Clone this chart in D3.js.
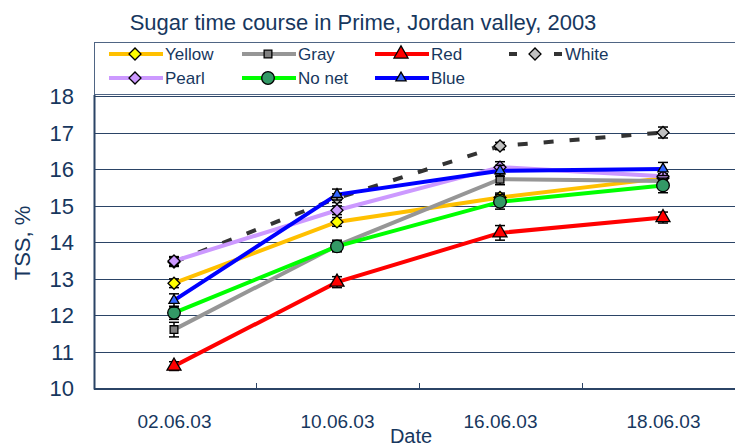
<!DOCTYPE html>
<html>
<head>
<meta charset="utf-8">
<script src="https://cdn.jsdelivr.net/npm/d3@7"></script>
<style>
  body { margin: 0; background: #fff; }
  svg { display: block; font-family: "Liberation Sans", Arial, sans-serif; }
</style>
</head>
<body>
<svg id="chart" width="735" height="446"></svg>
<script>
// data
const categories = ['02.06.03', '10.06.03', '16.06.03', '18.06.03'];
const yTicks = [10, 11, 12, 13, 14, 15, 16, 17, 18];

const yellow = [12.87, 14.55, 15.22, 15.75];
const gray = [11.6, 13.9, 15.72, 15.67];
const red = [10.6, 12.9, 14.25, 14.67];
const white = [13.45, 15.2, 16.63, 17.0];
const pearl = [13.48, 14.87, 16.05, 15.8];
const noNet = [12.06, 13.88, 15.1, 15.55];
const blue = [12.4, 15.3, 15.95, 16.0];

const yellowErr = [0.12, 0.12, 0.12, 0.12];
const grayErr = [0.2, 0.15, 0.15, 0.15];
const redErr = [0.12, 0.15, 0.2, 0.15];
const whiteErr = [0.12, 0.12, 0.1, 0.15];
const pearlErr = [0.12, 0.12, 0.15, 0.15];
const noNetErr = [0.18, 0.15, 0.2, 0.2];
const blueErr = [0.18, 0.15, 0.15, 0.18];

const series = [
  {name: 'Yellow', values: yellow, err: yellowErr, line: '#FFC000', fill: '#FFFF00', shape: 'diamond'},
  {name: 'Gray', values: gray, err: grayErr, line: '#969696', fill: '#808080', shape: 'square'},
  {name: 'Red', values: red, err: redErr, line: '#FF0000', fill: '#FF0000', shape: 'bigTriangle'},
  {name: 'White', values: white, err: whiteErr, line: '#333333', fill: '#C0C0C0', shape: 'diamond', dashed: true},
  {name: 'Pearl', values: pearl, err: pearlErr, line: '#CC99FF', fill: '#CC99FF', shape: 'diamond'},
  {name: 'No net', values: noNet, err: noNetErr, line: '#00FF00', fill: '#339966', shape: 'circle'},
  {name: 'Blue', values: blue, err: blueErr, line: '#0000FF', fill: '#3366FF', shape: 'smallTriangle'}
];

const textColor = '#17375E';
const gridColor = '#2B4466';

const svg = d3.select('#chart');

const x = d3.scalePoint()
  .domain(categories)
  .range([92.5, 744.5])
  .padding(0.5);

const y = d3.scaleLinear()
  .domain([10, 18])
  .range([388, 96]);

function markerPath(shape) {
  if (shape === 'diamond') return d3.symbol(d3.symbolSquare, 72)();
  if (shape === 'square') return d3.symbol(d3.symbolSquare, 60)();
  if (shape === 'bigTriangle') return d3.symbol(d3.symbolTriangle, 85)();
  if (shape === 'smallTriangle') return d3.symbol(d3.symbolTriangle, 45)();
  return d3.symbol(d3.symbolCircle, 125)();
}

function markerTransform(shape, px, py) {
  const rot = shape === 'diamond' ? ' rotate(45)' : '';
  return `translate(${px},${py})${rot}`;
}

// title
svg.append('text')
  .attr('x', 363)
  .attr('y', 30)
  .attr('text-anchor', 'middle')
  .attr('font-size', 22)
  .attr('fill', textColor)
  .text('Sugar time course in Prime, Jordan valley, 2003');

// gridlines
svg.append('g')
  .selectAll('line')
  .data(yTicks)
  .join('line')
  .attr('x1', 94)
  .attr('x2', 735)
  .attr('y1', d => Math.round(y(d)) + 0.5)
  .attr('y2', d => Math.round(y(d)) + 0.5)
  .attr('stroke', gridColor)
  .attr('stroke-width', 1);

// y axis labels
const yAxis = svg.append('g')
  .attr('transform', 'translate(74,0)')
  .call(d3.axisLeft(y).tickValues(yTicks).tickSize(0).tickPadding(0));
yAxis.select('.domain').remove();
yAxis.selectAll('text')
  .attr('font-size', 22)
  .attr('font-family', '"Liberation Sans", Arial, sans-serif')
  .attr('fill', textColor)
  .attr('dy', '0.36em');

// x axis
const xAxis = svg.append('g')
  .attr('transform', 'translate(0,389)')
  .call(d3.axisBottom(x).tickSize(0).tickPadding(26));
xAxis.select('.domain').remove();
xAxis.selectAll('text')
  .attr('font-size', 19)
  .attr('font-family', '"Liberation Sans", Arial, sans-serif')
  .attr('fill', textColor);

// category separator ticks
const step = x.step();
svg.append('g')
  .selectAll('line')
  .data(categories.slice(1))
  .join('line')
  .attr('x1', d => Math.round(x(d) - step / 2) + 0.5)
  .attr('x2', d => Math.round(x(d) - step / 2) + 0.5)
  .attr('y1', 383)
  .attr('y2', 389)
  .attr('stroke', gridColor)
  .attr('stroke-width', 1);

// plot frame (left and bottom)
svg.append('line')
  .attr('x1', 94.5).attr('x2', 94.5)
  .attr('y1', 95).attr('y2', 389.5)
  .attr('stroke', gridColor).attr('stroke-width', 2);
svg.append('line')
  .attr('x1', 94).attr('x2', 735)
  .attr('y1', 389).attr('y2', 389)
  .attr('stroke', gridColor).attr('stroke-width', 2);

// axis titles
svg.append('text')
  .attr('transform', 'translate(30,243) rotate(-90)')
  .attr('text-anchor', 'middle')
  .attr('font-size', 22)
  .attr('fill', textColor)
  .text('TSS, %');

svg.append('text')
  .attr('x', 411)
  .attr('y', 443)
  .attr('text-anchor', 'middle')
  .attr('font-size', 20)
  .attr('fill', textColor)
  .text('Date');

// lines
const line = d3.line()
  .x((d, i) => x(categories[i]))
  .y(d => y(d));

const plot = svg.append('g');

series.forEach(s => {
  plot.append('path')
    .datum(s.values)
    .attr('fill', 'none')
    .attr('stroke', s.line)
    .attr('stroke-width', 4)
    .attr('stroke-dasharray', s.dashed ? '10,16' : null)
    .attr('d', line);
});

// error bars and markers
series.forEach(s => {
  const g = plot.append('g');
  s.values.forEach((v, i) => {
    const px = x(categories[i]);
    const top = y(v + s.err[i]);
    const bot = y(v - s.err[i]);
    g.append('line')
      .attr('x1', px).attr('x2', px)
      .attr('y1', top).attr('y2', bot)
      .attr('stroke', '#000').attr('stroke-width', 1.5);
    [top, bot].forEach(cy => {
      g.append('line')
        .attr('x1', px - 5).attr('x2', px + 5)
        .attr('y1', cy).attr('y2', cy)
        .attr('stroke', '#000').attr('stroke-width', 1.5);
    });
  });
  g.selectAll('path')
    .data(s.values)
    .join('path')
    .attr('d', markerPath(s.shape))
    .attr('transform', (d, i) => markerTransform(s.shape, x(categories[i]), y(d)))
    .attr('fill', s.fill)
    .attr('stroke', '#000')
    .attr('stroke-width', 1.3);
});

// legend
const legend = svg.append('g');
legend.append('rect')
  .attr('x', 94.5)
  .attr('y', 42.5)
  .attr('width', 660)
  .attr('height', 52)
  .attr('fill', '#fff')
  .attr('stroke', '#4F6584')
  .attr('stroke-width', 1);

const legendCols = [109, 242, 375, 509];
const legendRows = [54, 78];

series.forEach((s, k) => {
  const lx = legendCols[k % 4];
  const ly = legendRows[Math.floor(k / 4)];
  const item = legend.append('g');
  if (s.dashed) {
    item.append('line')
      .attr('x1', lx).attr('x2', lx + 8)
      .attr('y1', ly).attr('y2', ly)
      .attr('stroke', s.line).attr('stroke-width', 4);
    item.append('line')
      .attr('x1', lx + 45).attr('x2', lx + 53)
      .attr('y1', ly).attr('y2', ly)
      .attr('stroke', s.line).attr('stroke-width', 4);
  } else {
    item.append('line')
      .attr('x1', lx).attr('x2', lx + 54)
      .attr('y1', ly).attr('y2', ly)
      .attr('stroke', s.line).attr('stroke-width', 4);
  }
  item.append('path')
    .attr('d', markerPath(s.shape))
    .attr('transform', markerTransform(s.shape, lx + 26, ly))
    .attr('fill', s.fill)
    .attr('stroke', '#000')
    .attr('stroke-width', 1.3);
  item.append('text')
    .attr('x', lx + 56)
    .attr('y', ly + 6)
    .attr('font-size', 17)
    .attr('fill', textColor)
    .text(s.name);
});
</script>
</body>
</html>
